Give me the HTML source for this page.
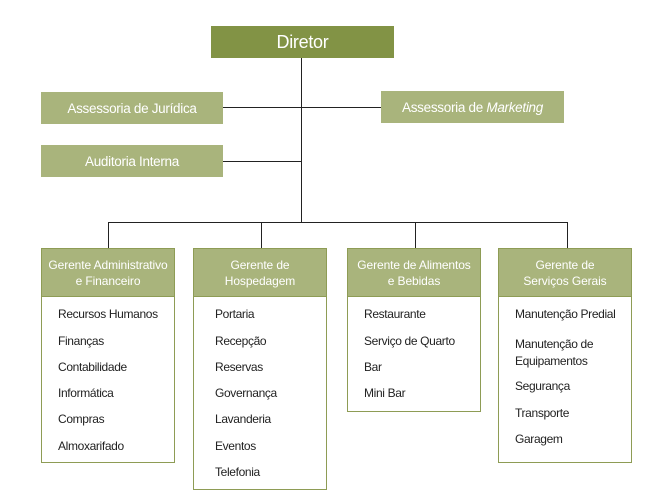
<!DOCTYPE html>
<html><head><meta charset="utf-8"><style>
body{margin:0;width:667px;height:502px;background:#fff;position:relative;overflow:hidden;font-family:"Liberation Sans",sans-serif}
.g{position:absolute;color:#fff;text-align:center;display:flex;align-items:center;justify-content:center;letter-spacing:-0.3px}
.l{position:absolute;background:#222}
.box{position:absolute;border:1.5px solid #8e9c55;box-sizing:border-box;background:#fff}
.hd{position:absolute;left:0;right:0;top:0;height:47px;background:#a9b47c;border-bottom:1.5px solid #8e9c55;color:#fff;font-size:12px;line-height:16px;text-align:center;display:flex;align-items:center;justify-content:center;letter-spacing:-0.1px}
.it{position:absolute;left:16px;font-size:12px;color:#222;letter-spacing:-0.35px;white-space:nowrap;line-height:15px}
</style></head><body>
<div class="l" style="left:301px;top:58px;width:1px;height:164px"></div>
<div class="l" style="left:223px;top:107px;width:158px;height:1px"></div>
<div class="l" style="left:223px;top:161px;width:78px;height:1px"></div>
<div class="l" style="left:108px;top:222px;width:460px;height:1px"></div>
<div class="l" style="left:108px;top:222px;width:1px;height:26px"></div>
<div class="l" style="left:261px;top:222px;width:1px;height:26px"></div>
<div class="l" style="left:415px;top:222px;width:1px;height:26px"></div>
<div class="l" style="left:567px;top:222px;width:1px;height:26px"></div>

<div class="g" style="left:211px;top:26px;width:183px;height:32px;background:#829345;font-size:18px">Diretor</div>
<div class="g" style="left:41px;top:92px;width:182px;height:32px;background:#a9b47c;font-size:13.5px">Assessoria de Jurídica</div>
<div class="g" style="left:381px;top:91px;width:183px;height:32px;background:#a9b47c;font-size:13.5px">Assessoria de&nbsp;<i>Marketing</i></div>
<div class="g" style="left:41px;top:145px;width:182px;height:32px;background:#a9b47c;font-size:13.5px">Auditoria Interna</div>

<div class="box" style="left:41px;top:248px;width:134px;height:215px">
<div class="hd">Gerente Administrativo<br>e Financeiro</div>
<div class="it" style="top:58px">Recursos Humanos</div>
<div class="it" style="top:85px">Finanças</div>
<div class="it" style="top:111px">Contabilidade</div>
<div class="it" style="top:137px">Informática</div>
<div class="it" style="top:163px">Compras</div>
<div class="it" style="top:190px">Almoxarifado</div>
</div>
<div class="box" style="left:193px;top:248px;width:134px;height:242px">
<div class="hd">Gerente de<br>Hospedagem</div>
<div class="it" style="top:58px;left:21px">Portaria</div>
<div class="it" style="top:85px;left:21px">Recepção</div>
<div class="it" style="top:111px;left:21px">Reservas</div>
<div class="it" style="top:137px;left:21px">Governança</div>
<div class="it" style="top:163px;left:21px">Lavanderia</div>
<div class="it" style="top:190px;left:21px">Eventos</div>
<div class="it" style="top:216px;left:21px">Telefonia</div>
</div>
<div class="box" style="left:347px;top:248px;width:134px;height:164px">
<div class="hd">Gerente de Alimentos<br>e Bebidas</div>
<div class="it" style="top:58px">Restaurante</div>
<div class="it" style="top:85px">Serviço de Quarto</div>
<div class="it" style="top:111px">Bar</div>
<div class="it" style="top:137px">Mini Bar</div>
</div>
<div class="box" style="left:498px;top:248px;width:134px;height:215px">
<div class="hd">Gerente de<br>Serviços Gerais</div>
<div class="it" style="top:58px">Manutenção Predial</div>
<div class="it" style="top:87px;line-height:17px">Manutenção de<br>Equipamentos</div>
<div class="it" style="top:130px">Segurança</div>
<div class="it" style="top:157px">Transporte</div>
<div class="it" style="top:183px">Garagem</div>
</div>
</body></html>
